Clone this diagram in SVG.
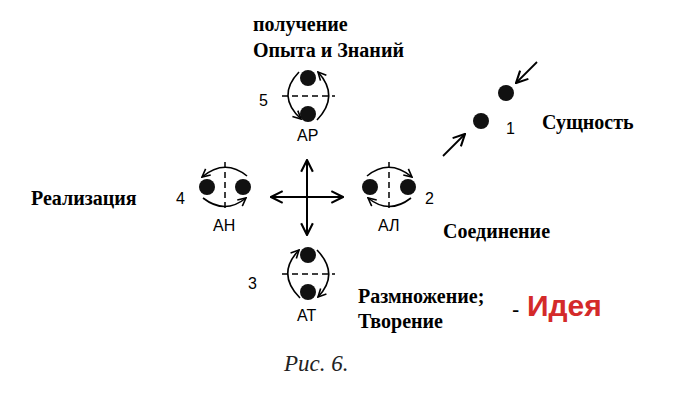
<svg xmlns="http://www.w3.org/2000/svg" width="676" height="408" viewBox="0 0 676 408">
<defs>
<marker id="ah" viewBox="0 0 10 10" refX="9" refY="5" markerWidth="10" markerHeight="10" orient="auto" markerUnits="userSpaceOnUse"><path d="M1,1 L9,5 L1,9" fill="none" stroke="#000" stroke-width="1.6"/></marker>
<marker id="big" viewBox="0 0 12 12" refX="11" refY="6" markerWidth="14" markerHeight="14" orient="auto" markerUnits="userSpaceOnUse"><path d="M1,1 L11,6 L1,11" fill="none" stroke="#000" stroke-width="1.8"/></marker>
</defs>
<style>
.b{font-family:"Liberation Serif",serif;font-weight:bold;font-size:20px;fill:#000}
.s{font-family:"Liberation Sans",sans-serif;font-size:16px;fill:#000}
.d{fill:#111}
.ds{stroke:#000;stroke-width:1.5;stroke-dasharray:6,4;fill:none}
.a{stroke:#000;stroke-width:1.6;fill:none;marker-end:url(#ah)}
</style>
<rect width="676" height="408" fill="#fff"/>
<g id="connectors">
<line x1="271" y1="197" x2="343" y2="197" stroke="#000" stroke-width="2" marker-end="url(#big)"/>
<line x1="343" y1="197" x2="271" y2="197" stroke="#000" stroke-width="2" marker-end="url(#big)"/>
<line x1="307" y1="235" x2="307" y2="160" stroke="#000" stroke-width="2" marker-end="url(#big)"/>
<line x1="307" y1="160" x2="307" y2="235" stroke="#000" stroke-width="2" marker-end="url(#big)"/>
<line x1="537" y1="62" x2="516" y2="83" stroke="#000" stroke-width="1.8" marker-end="url(#big)"/>
<line x1="443" y1="156" x2="465" y2="134" stroke="#000" stroke-width="1.8" marker-end="url(#big)"/>
</g>
<g id="node1">
<circle class="d" cx="481" cy="121" r="8"/><circle class="d" cx="506" cy="93" r="8"/>
<text class="s" x="506" y="134">1</text>
<text class="b" x="542" y="129">Сущность</text>
</g>
<g id="node5">
<text class="b" x="253" y="31">получение</text>
<text class="b" x="253" y="57">Опыта и Знаний</text>
<circle class="d" cx="308" cy="78" r="8"/><circle class="d" cx="308" cy="114" r="8"/>
<line class="ds" x1="282" y1="96" x2="335" y2="96"/>
<path class="a" d="M299,72 Q276,96 301,119"/>
<path class="a" d="M317,120 Q340,96 318,72"/>
<text class="s" x="259" y="106">5</text>
<text class="s" x="297" y="141">АР</text>
</g>
<g id="node4">
<text class="b" x="31" y="205">Реализация</text>
<circle class="d" cx="207" cy="187" r="8"/><circle class="d" cx="243" cy="187" r="8"/>
<line class="ds" x1="225" y1="162" x2="225" y2="212"/>
<path class="a" d="M247,176 Q225,158 202,177"/>
<path class="a" d="M203,198 Q225,215 246,198"/>
<text class="s" x="176" y="204">4</text>
<text class="s" x="213" y="231">АН</text>
</g>
<g id="node2">
<text class="b" x="443" y="238">Соединение</text>
<circle class="d" cx="370" cy="187" r="8"/><circle class="d" cx="408" cy="187" r="8"/>
<line class="ds" x1="389" y1="162" x2="389" y2="212"/>
<path class="a" d="M367,176 Q389,158 412,177"/>
<path class="a" d="M411,198 Q389,215 368,198"/>
<text class="s" x="425" y="204">2</text>
<text class="s" x="378" y="231">АЛ</text>
</g>
<g id="node3">
<circle class="d" cx="308" cy="255" r="8"/><circle class="d" cx="308" cy="292" r="8"/>
<line class="ds" x1="282" y1="274" x2="335" y2="274"/>
<path class="a" d="M300,298 Q276,274 299,250"/>
<path class="a" d="M317,250 Q340,274 318,297"/>
<text class="s" x="248" y="289">3</text>
<text class="s" x="297" y="321">АТ</text>
<text class="b" x="358" y="303">Размножение;</text>
<text class="b" x="358" y="328">Творение</text>
</g>
<g id="legend">
<text x="512" y="317" font-family="Liberation Sans,sans-serif" font-size="22" fill="#000">-</text>
<text x="527" y="316" font-family="Liberation Sans,sans-serif" font-weight="bold" font-size="30" fill="#d42a2a">Идея</text>
</g>
<text x="284" y="371" font-family="Liberation Serif,serif" font-style="italic" font-size="23" fill="#222">Рис. 6.</text>
</svg>
